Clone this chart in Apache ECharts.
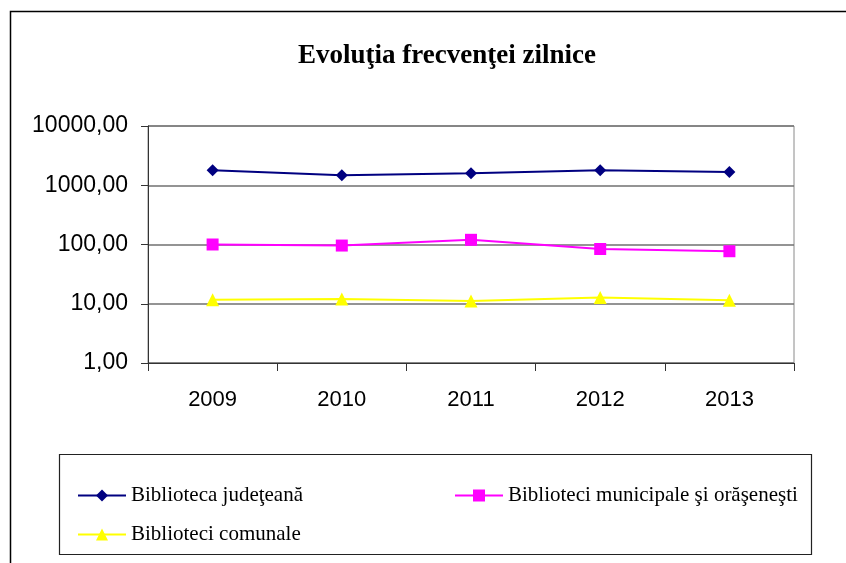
<!DOCTYPE html>
<html>
<head>
<meta charset="utf-8">
<script src="https://cdn.jsdelivr.net/npm/echarts@6/dist/echarts.min.js"></script>
<style>
  html, body { margin: 0; padding: 0; background: #fff; }
  #chart { width: 846px; height: 563px; }
</style>
</head>
<body>
<div id="chart"></div>
<script>
const years = ["2009", "2010", "2011", "2012", "2013"];
const judeteana = [1790, 1475, 1590, 1790, 1680];
const municipale = [100, 96, 120, 84, 77];
const comunale = [11.7, 12.0, 11.1, 12.8, 11.5];
const seriesNames = [
  "Biblioteca judeţeană",
  "Biblioteci municipale şi orăşeneşti",
  "Biblioteci comunale"
];

const chart = echarts.init(document.getElementById("chart"));

const legendText = {
  fontFamily: "Liberation Serif",
  fontSize: 21,
  color: "#000"
};

function legendItem(name, left, top) {
  return {
    data: [name],
    left,
    top,
    itemWidth: 48,
    itemHeight: 15,
    itemGap: 0,
    textStyle: legendText
  };
}

function lineSeries(name, data, color, symbol, size) {
  return {
    name,
    type: "line",
    data,
    symbol,
    symbolSize: size,
    lineStyle: { color, width: 2 },
    itemStyle: { color },
    animation: false
  };
}

chart.setOption({
  backgroundColor: "#fff",
  title: {
    text: "Evoluţia frecvenţei zilnice",
    left: 442,
    top: 38,
    textAlign: "center",
    textStyle: {
      fontFamily: "Liberation Serif",
      fontWeight: "bold",
      fontSize: 27,
      color: "#000"
    }
  },
  grid: {
    left: 148,
    right: 52,
    top: 126,
    bottom: 200,
    show: true,
    borderColor: "#8a8a8a",
    borderWidth: 1
  },
  xAxis: {
    type: "category",
    data: years,
    boundaryGap: true,
    axisLine: { lineStyle: { color: "#333", width: 1 } },
    axisTick: { show: true, length: 8, lineStyle: { color: "#333" } },
    axisLabel: {
      fontFamily: "Liberation Sans",
      fontSize: 22,
      color: "#000",
      margin: 26
    }
  },
  yAxis: {
    type: "log",
    logBase: 10,
    min: 1,
    max: 10000,
    axisLine: { show: true, lineStyle: { color: "#333", width: 1 } },
    axisTick: { show: true, length: 7, lineStyle: { color: "#333" } },
    minorTick: { show: false },
    axisLabel: {
      fontFamily: "Liberation Sans",
      fontSize: 23,
      color: "#000",
      margin: 20,
      formatter: (v) => Number(v).toFixed(2).replace(".", ",")
    },
    splitLine: {
      show: true,
      lineStyle: { color: "#707070", width: 1.5 }
    }
  },
  legend: [
    legendItem(seriesNames[0], 72, 480),
    legendItem(seriesNames[1], 449, 480),
    legendItem(seriesNames[2], 72, 519)
  ],
  graphic: [
    {
      type: "polyline",
      shape: { points: [[10.5, 563], [10.5, 11.5], [846, 11.5]] },
      style: { stroke: "#000", lineWidth: 1.5, fill: null },
      silent: true
    },
    {
      type: "rect",
      shape: { x: 59.5, y: 454.5, width: 752, height: 100 },
      style: { stroke: "#222", lineWidth: 1.2, fill: null },
      silent: true
    }
  ],
  series: [
    lineSeries(seriesNames[0], judeteana, "#000080", "diamond", 12),
    lineSeries(seriesNames[1], municipale, "#ff00ff", "rect", 12),
    lineSeries(seriesNames[2], comunale, "#ffff00", "triangle", 13)
  ]
});
</script>
</body>
</html>
